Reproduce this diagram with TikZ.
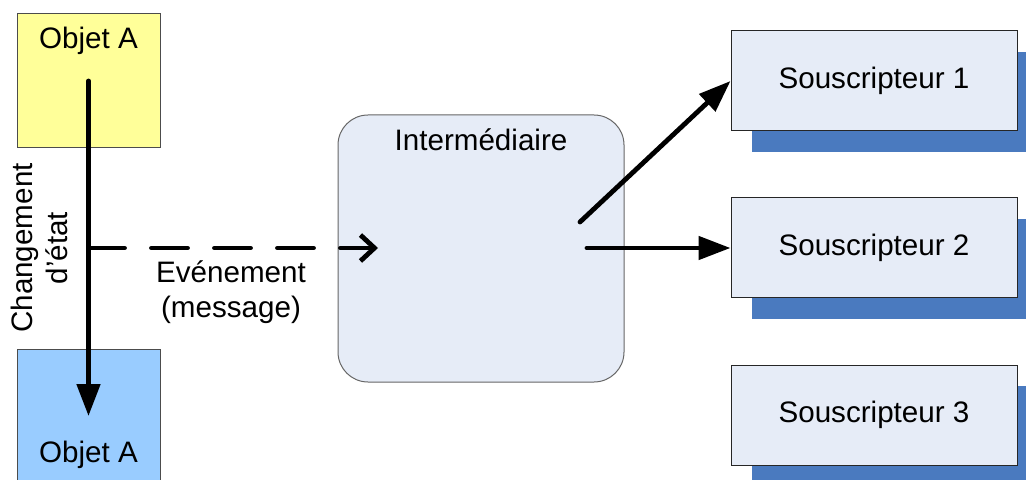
\documentclass[tikz,border=0pt]{standalone}
\usepackage{fontspec}
\setmainfont{Liberation Sans}
\usetikzlibrary{positioning, arrows.meta, shadows}
\definecolor{objyellow}{HTML}{FFFF99}
\definecolor{objblue}{HTML}{99CCFF}
\definecolor{boxfill}{HTML}{E6ECF7}
\definecolor{shadowblue}{HTML}{4A7ABF}

\begin{document}
\begin{tikzpicture}[x=0.5pt, y=-0.5pt, font=\fontsize{14.8}{17.5}\selectfont,
	objbox/.style={draw=black!70, line width=0.5pt, minimum width=71.5pt, minimum height=67pt, inner sep=0pt},
	subbox/.style={draw=black!85, fill=boxfill, line width=0.5pt, minimum width=143pt, minimum height=50pt,
		general shadow={fill=shadowblue, shadow xshift=10.5pt, shadow yshift=-10.5pt}},
	bigarrow/.style={line width=2.4pt, line cap=round, -{Triangle[length=16pt,width=11.5pt]}},
	evtarrow/.style={line width=2.4pt, line cap=round, dash pattern=on 18pt off 13.5pt, -{Straight Barb[length=7pt,width=13pt]}}]
	\useasboundingbox (0,0) rectangle (1026,480);

	% objets
	\node (objA) [objbox, fill=objyellow] at (88.5,81) {};
	\node (objB) [objbox, fill=objblue] at (88.5,416) {};
	\node at (88.5,41) {Objet A};
	\node at (88.5,455) {Objet A};

	% intermediaire
	\node (inter) [draw=black!60, line width=0.5pt, fill=boxfill, rounded corners=15pt, minimum width=143pt, minimum height=133.5pt] at (481,248.5) {};
	\node at (481,140) {Intermédiaire};

	% souscripteurs
	\foreach \i/\y in {1/81, 2/248, 3/415}
		\node (sub\i) [subbox] at (874,\y) {Souscripteur \i};

	\coordinate (evtstart) at (88.5,248);
	\coordinate (evtend) at (378,248);
	\coordinate (out1) at (580,222);
	\coordinate (out2) at (587,248);

	\draw[bigarrow] (objA.center) -- (objB.center);
	\draw[evtarrow] (evtstart) -- (evtend);
	\draw[bigarrow] (out1) -- (sub1.west);
	\draw[bigarrow] (out2) -- (sub2.west);

	\node[rotate=90, align=center] at (39,248) {Changement\\d'état};
	\node[align=center] at (231,292) {Evénement\\(message)};
\end{tikzpicture}
\end{document}
